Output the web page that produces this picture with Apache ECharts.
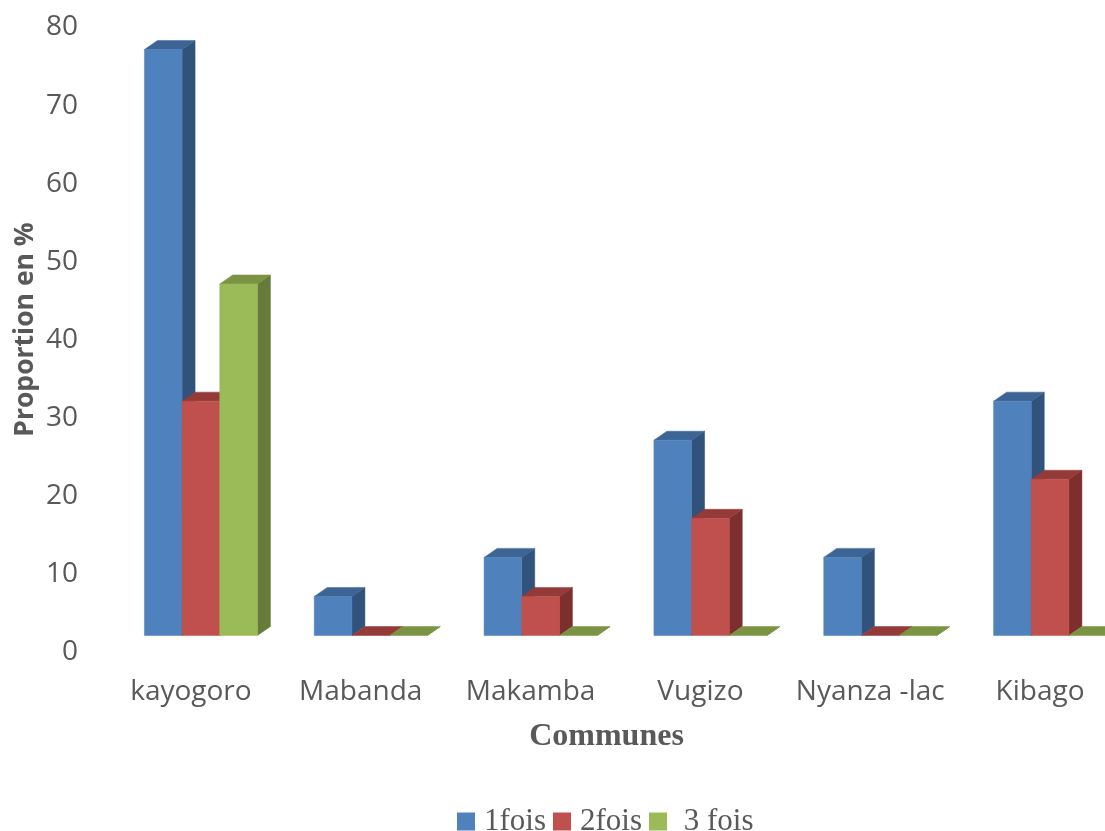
<!DOCTYPE html>
<html>
<head>
<meta charset="utf-8">
<style>html,body{margin:0;padding:0;background:#fff}#c{width:1105px;height:831px}</style>
<script src="https://cdn.jsdelivr.net/npm/echarts@6/dist/echarts.min.js"></script>
</head>
<body>
<div id="c"></div>
<script>
const categories = ['kayogoro', 'Mabanda', 'Makamba', 'Vugizo', 'Nyanza -lac', 'Kibago'];
const fois1 = [75, 5, 10, 25, 10, 30];
const fois2 = [30, 0, 5, 15, 0, 20];
const fois3 = [45, 0, 0, 0, 0, 0];
const seriesNames = ['1fois', '2fois', ' 3 fois'];
const faceColors = ['#4f81bd', '#c0504d', '#9bbb59'];
const topColors = ['#3c6494', '#943b39', '#7a9443'];
const sideColors = ['#31527a', '#7c2f2d', '#667a3a'];

const DX = 13, DY = -9, FLOOR_SHIFT = -14.5, GROUP_SHIFT = 10, BAR_RATIO = 0.2218;

function renderBar(params, api) {
  const s = params.seriesIndex;
  const base = api.coord([api.value(0), 0]);
  const tip = api.coord([api.value(0), api.value(1)]);
  const w = api.size([1, 0])[0] * BAR_RATIO;
  const x0 = base[0] + GROUP_SHIFT + (s - 1.5) * w;
  const x1 = x0 + w;
  const yb = base[1] + FLOOR_SHIFT;
  const yt = tip[1] + FLOOR_SHIFT;
  const poly = (pts, fill) => ({ type: 'polygon', shape: { points: pts }, style: { fill: fill, stroke: fill, lineWidth: 0.5 } });
  const children = [];
  children.push(poly([[x1, yb], [x1 + DX, yb + DY], [x1 + DX, yt + DY], [x1, yt]], sideColors[s]));
  children.push(poly([[x0, yt], [x0 + DX, yt + DY], [x1 + DX, yt + DY], [x1, yt]], topColors[s]));
  if (yb - yt > 0.5) children.push(poly([[x0, yb], [x1, yb], [x1, yt], [x0, yt]], faceColors[s]));
  return { type: 'group', children: children };
}

const values = [fois1, fois2, fois3];
const chart = echarts.init(document.getElementById('c'), null, { renderer: 'canvas' });
chart.setOption({
  animation: false,
  backgroundColor: '#ffffff',
  grid: { left: 106, right: -20, top: 25, bottom: 181, containLabel: false, outerBoundsMode: 'none' },
  legend: {
    bottom: -11,
    left: 452,
    itemWidth: 18,
    itemHeight: 18,
    itemGap: 7,
    icon: 'rect',
    textStyle: { fontFamily: 'Liberation Serif', fontSize: 31, color: '#595959', padding: [0, 0, 0, 4] },
    data: seriesNames
  },
  xAxis: {
    type: 'category',
    data: categories,
    axisLine: { show: false },
    axisTick: { show: false },
    axisLabel: { interval: 0, fontFamily: 'Open Sans', fontSize: 28, color: '#595959', margin: 28 },
    name: 'Communes',
    nameLocation: 'middle',
    nameGap: 71,
    nameTextStyle: { fontFamily: 'Liberation Serif', fontWeight: 'bold', fontSize: 32, color: '#595959', padding: [0, 18, 0, 0] }
  },
  yAxis: {
    type: 'value',
    min: 0,
    max: 80,
    interval: 10,
    axisLine: { show: false },
    axisTick: { show: false },
    splitLine: { show: false },
    axisLabel: { fontFamily: 'Open Sans', fontSize: 28, color: '#595959', margin: 28, verticalAlign: 'top', lineHeight: 5 },
    name: 'Proportion en %',
    nameLocation: 'middle',
    nameGap: 67,
    nameMoveOverlap: false,
    nameRotate: 90,
    nameTextStyle: { fontFamily: 'Open Sans', fontWeight: 'bold', fontSize: 26.5, color: '#595959', padding: [0, 0, 0, 16] }
  },
  series: values.map((vals, i) => ({
    type: 'custom',
    name: seriesNames[i],
    renderItem: renderBar,
    clip: false,
    itemStyle: { color: faceColors[i] },
    encode: { x: 0, y: 1 },
    data: vals.map((v, k) => [k, v])
  }))
});
</script>
</body>
</html>
